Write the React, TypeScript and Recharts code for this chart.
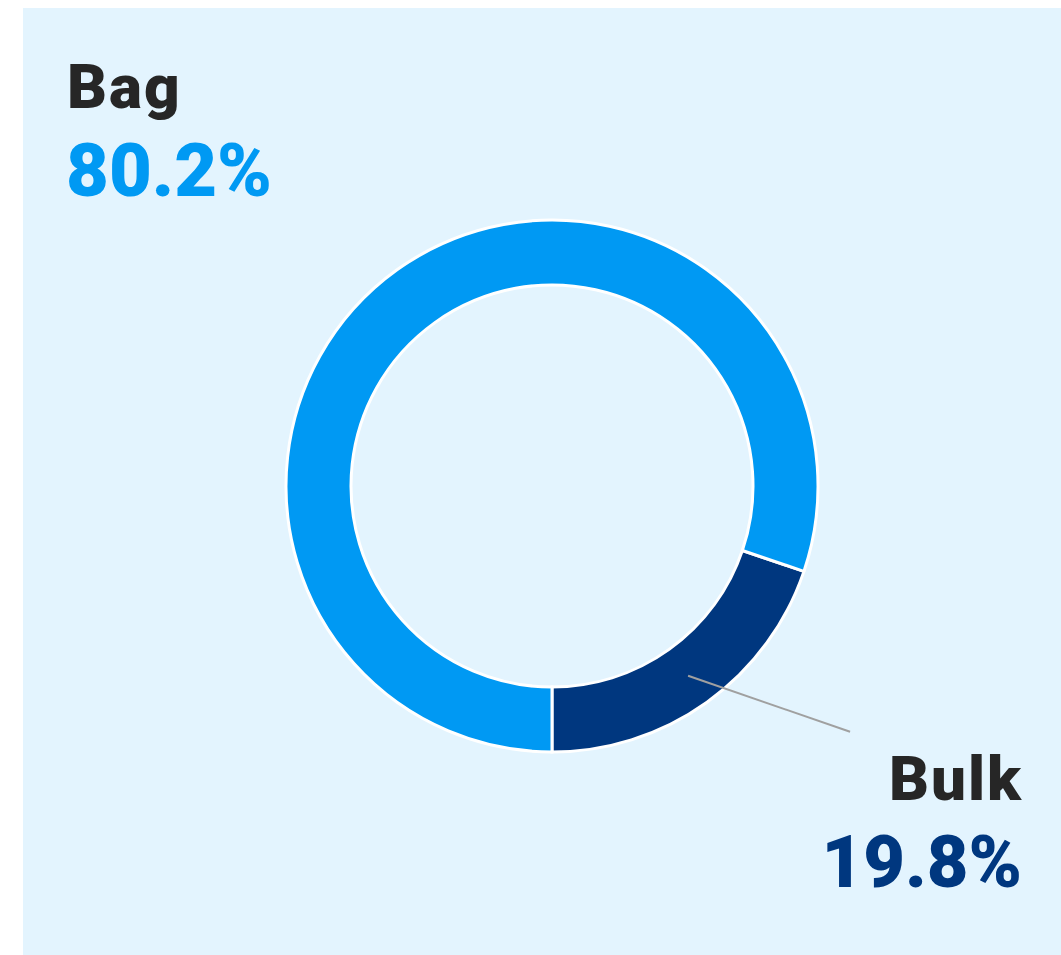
import React from 'react';
import { PieChart, Pie, Cell } from 'recharts';

const categories = ['Bulk', 'Bag'];
const shares = [19.8, 80.2];
const colors = ['#00377f', '#0099f3'];

const data = categories.map((name, i) => ({ name, value: shares[i] }));

const FONT = 'Roboto, "Noto Sans", sans-serif';
const RAD = Math.PI / 180;

const renderLabel = (props: any) => {
  const { cx, cy, midAngle, innerRadius, outerRadius, index } = props;
  const name = categories[index];
  const pct = `${shares[index].toFixed(1)}%`;
  if (name === 'Bag') {
    return (
      <g>
        <text x={44} y={100} fontFamily={FONT} fontWeight={900} fontSize={62} letterSpacing={2} fill="#262626">
          {name}
        </text>
        <text x={43} y={188} fontFamily={FONT} fontWeight={900} fontSize={74} fill={colors[index]}>
          {pct}
        </text>
      </g>
    );
  }
  const r = (innerRadius + outerRadius) / 2;
  const sx = cx + r * Math.cos(-midAngle * RAD);
  const sy = cy + r * Math.sin(-midAngle * RAD);
  return (
    <g>
      <line x1={sx} y1={sy} x2={sx + 162} y2={sy + 56} stroke="#a0a0a0" strokeWidth={2} />
      <text x={1000} y={792} textAnchor="end" fontFamily={FONT} fontWeight={900} fontSize={62} letterSpacing={2} fill="#262626">
        {name}
      </text>
      <text x={999} y={879} textAnchor="end" fontFamily={FONT} fontWeight={900} fontSize={72} fill={colors[index]}>
        {pct}
      </text>
    </g>
  );
};

export default function App() {
  return (
    <div
      style={{
        position: 'fixed',
        left: 23,
        top: 8,
        width: 1038,
        height: 947,
        background: '#e3f4fe',
      }}
    >
      <PieChart width={1038} height={947} margin={{ top: 0, right: 0, bottom: 0, left: 0 }}>
        <Pie
          data={data}
          dataKey="value"
          nameKey="name"
          cx={529}
          cy={478}
          innerRadius={201}
          outerRadius={266}
          startAngle={-90}
          endAngle={270}
          stroke="#ffffff"
          strokeWidth={3}
          label={renderLabel}
          labelLine={false}
          isAnimationActive={false}
        >
          {data.map((d, i) => (
            <Cell key={d.name} fill={colors[i]} />
          ))}
        </Pie>
      </PieChart>
    </div>
  );
}
